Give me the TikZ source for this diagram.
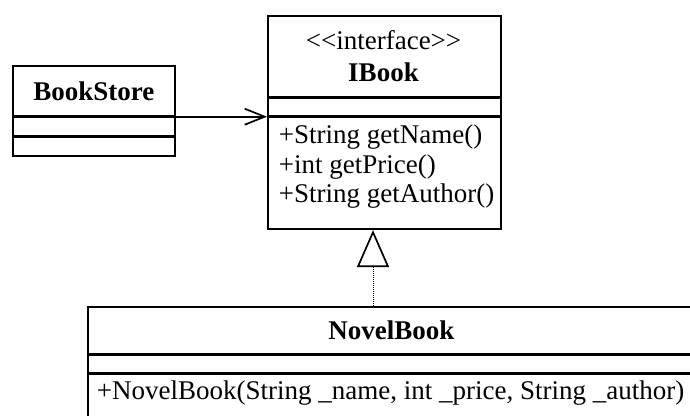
\documentclass[tikz,border=0pt]{standalone}
\usepackage{fontspec}
\setmainfont{Liberation Serif}
\usetikzlibrary{arrows.meta}

\begin{document}
\begin{tikzpicture}[x=1pt, y=-1pt, line width=1.7pt,
    every node/.style={draw, inner sep=0pt, font=\fontsize{27}{29.5}\selectfont},
    txt/.style={draw=none}]

    \useasboundingbox (0,0) rectangle (690,415);
    \clip (0,0) rectangle (690,415);

    % BookStore
    \node[anchor=north west, minimum width=162, minimum height=50] (bsname) at (12,65) {\textbf{BookStore}};
    \node[anchor=north, minimum width=162, minimum height=18] (bsattr) at (bsname.south) {};
    \node[anchor=north, minimum width=162, minimum height=19] (bsops) at (bsattr.south) {};

    % IBook
    \node[anchor=north west, minimum width=233, minimum height=81] (ibname) at (267,15) {};
    \node[txt] (ibstereo) at (383.5,40) {<{}<interface>{}>};
    \node[txt] (ibtitle) at (383.5,72) {\textbf{IBook}};
    \node[anchor=north, minimum width=233, minimum height=17] (ibattr) at (ibname.south) {};
    \node[anchor=north, minimum width=233, minimum height=112] (ibops) at (ibattr.south) {};
    \node[txt, anchor=west, align=left] (ibopstext) at (278,167) {+String getName()\\+int getPrice()\\+String getAuthor()};

    % NovelBook
    \node[anchor=north west, minimum width=607, minimum height=47] (nbname) at (87,306) {\textbf{NovelBook}};
    \node[anchor=north, minimum width=607, minimum height=17] (nbattr) at (nbname.south) {};
    \node[anchor=north, minimum width=607, minimum height=70] (nbops) at (nbattr.south) {};
    \node[txt, anchor=west] (nbopstext) at (96,393) {+NovelBook(String \_name, int \_price, String \_author)};

    % Edges
    \coordinate (ibhook) at (373,0); % triangle sits left of centre
    \draw[-{Straight Barb[length=20pt, width=16pt]}] (bsname.south east) -- (bsname.south east -| ibattr.west);
    \draw[line width=1pt, densely dotted, -{Triangle[open, length=37pt, width=32pt, line width=1.7pt]}] (nbname.north -| ibhook) -- (ibops.south -| ibhook);

\end{tikzpicture}
\end{document}
